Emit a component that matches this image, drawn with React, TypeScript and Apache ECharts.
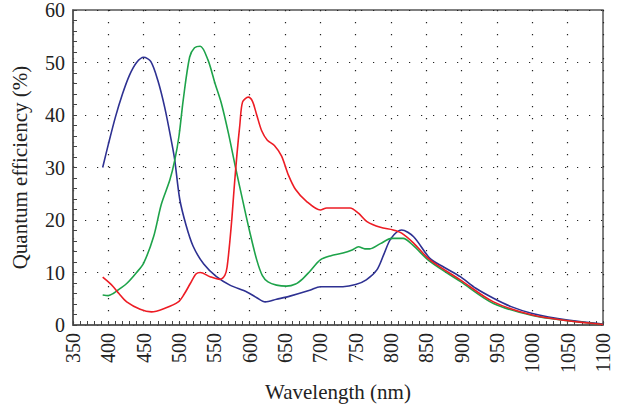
import React, { useEffect, useRef } from "react";
import * as echarts from "echarts";

const xTicks = { min: 350, max: 1100, interval: 50 };
const yTicks = { min: 0, max: 60, interval: 10 };

const blueData: number[][] = [
  [392, 30], [400, 34.4], [410, 39.6], [420, 44], [430, 47.6], [440, 50], [450, 51], [460, 50.2],
  [470, 46.6], [480, 41.3], [490, 34.5], [494, 31.4], [501, 24], [510, 19], [520, 15], [535, 11.6],
  [553, 9.2], [572, 7.6], [596, 6.3], [610, 5.2], [622, 4.4], [638, 4.9], [657, 5.5], [685, 6.6],
  [700, 7.3], [732, 7.3], [750, 7.7], [765, 8.6], [780, 10.5], [790, 13.5], [800, 16.5], [815, 18.1],
  [832, 16.8], [855, 12.7], [875, 11], [898, 9.2], [920, 7], [945, 5.1], [970, 3.5], [1000, 2.2],
  [1050, 0.95], [1100, 0.2],
];

const greenData: number[][] = [
  [392, 5.7], [400, 5.6], [407, 6.0], [415, 6.8], [426, 7.9], [440, 10], [450, 11.8], [464, 16.8],
  [475, 23], [487, 27.6], [494, 31.4], [500, 36], [506, 42.9], [515, 51], [522, 52.8], [530, 53.1],
  [541, 50.5], [551, 46], [560, 42.2], [570, 36.5], [580, 30], [591, 23.2], [600, 17.8],
  [610, 12.4], [618, 9.4], [626, 8.2], [638, 7.6], [652, 7.4], [665, 7.8], [675, 8.8], [685, 10.2],
  [700, 12.4], [715, 13.2], [732, 13.7], [745, 14.3], [754, 14.9], [763, 14.5], [770, 14.5],
  [785, 15.5], [801, 16.5], [817, 16.5], [831, 15.2], [855, 12.1], [898, 8.3], [945, 4.1],
  [1000, 1.8], [1050, 0.8], [1100, 0.1],
];

const redData: number[][] = [
  [392, 9.1], [400, 8.2], [407, 7.3], [415, 6], [426, 4.4], [445, 3.0], [461, 2.5], [480, 3.2],
  [499, 4.4], [507, 5.8], [516, 7.9], [524, 9.7], [530, 10], [544, 9.2], [558, 8.7], [565, 9.5],
  [568, 11], [572, 16], [575, 20.6], [578, 26], [582, 32.5], [586, 38], [590, 42.5], [598, 43.4],
  [604, 42.6], [610, 40], [617, 37], [625, 35.2], [635, 34.2], [645, 32.2], [655, 28.5], [665, 25.8],
  [680, 23.6], [700, 21.9], [709, 22.3], [742, 22.3], [754, 21.3], [766, 19.7],
  [785, 18.6], [803, 18.1], [815, 17.5], [832, 15.6], [855, 12.4], [898, 8.6], [945, 4.4],
  [1000, 1.9], [1050, 0.8], [1100, 0.1],
];

const seriesList = [
  { name: "Blue", data: blueData, color: "#2e3192" },
  { name: "Green", data: greenData, color: "#1ea34a" },
  { name: "Red", data: redData, color: "#ed1c24" },
];

const FONT = "'Liberation Serif', 'Times New Roman', serif";

export default function App() {
  const ref = useRef<HTMLDivElement>(null);
  useEffect(() => {
    if (!ref.current) return;
    const chart = echarts.init(ref.current, null, { renderer: "svg" });
    const splitLine = {
      show: true,
      lineStyle: { color: "#222", width: 1.2, type: [1.2, 10.8] as any },
    };
    chart.setOption({
      animation: false,
      backgroundColor: "#fff",
      grid: {
        left: 73, right: 17, top: 10, bottom: 83,
        outerBoundsMode: "none",
        containLabel: false,
        show: true, borderColor: "#555", borderWidth: 1.5,
      },
      xAxis: {
        type: "value",
        min: xTicks.min, max: xTicks.max, interval: xTicks.interval,
        name: "Wavelength (nm)",
        nameLocation: "middle",
        nameGap: 56,
        nameTextStyle: { fontFamily: FONT, fontSize: 21, color: "#222" },
        axisLine: { show: true, lineStyle: { color: "#555", width: 1.5 } },
        axisTick: { show: true, inside: true, length: 4, lineStyle: { color: "#444" } },
        minorTick: { show: true, splitNumber: 5, length: 4, lineStyle: { color: "#444" } },
        axisLabel: {
          rotate: 90, fontFamily: FONT, fontSize: 20, color: "#222", margin: 8,
          formatter: (v: number) => String(v),
        },
        splitLine,
      },
      yAxis: {
        type: "value",
        min: yTicks.min, max: yTicks.max, interval: yTicks.interval,
        name: "Quantum efficiency (%)",
        nameLocation: "middle",
        nameGap: 43,
        nameTextStyle: { fontFamily: FONT, fontSize: 21, color: "#222" },
        axisLine: { show: true, lineStyle: { color: "#555", width: 1.5 } },
        axisTick: { show: true, inside: true, length: 4, lineStyle: { color: "#444" } },
        minorTick: { show: true, splitNumber: 5, length: 4, lineStyle: { color: "#444" } },
        axisLabel: { fontFamily: FONT, fontSize: 20, color: "#222", margin: 8 },
        splitLine,
      },
      series: seriesList.map((s) => ({
        name: s.name,
        type: "line",
        data: s.data,
        smooth: 0.3,
        showSymbol: false,
        lineStyle: { color: s.color, width: 1.6 },
        itemStyle: { color: s.color },
      })),
    });
    return () => chart.dispose();
  }, []);
  return <div ref={ref} style={{ width: 620, height: 408, position: "absolute", left: 0, top: 0 }} />;
}
